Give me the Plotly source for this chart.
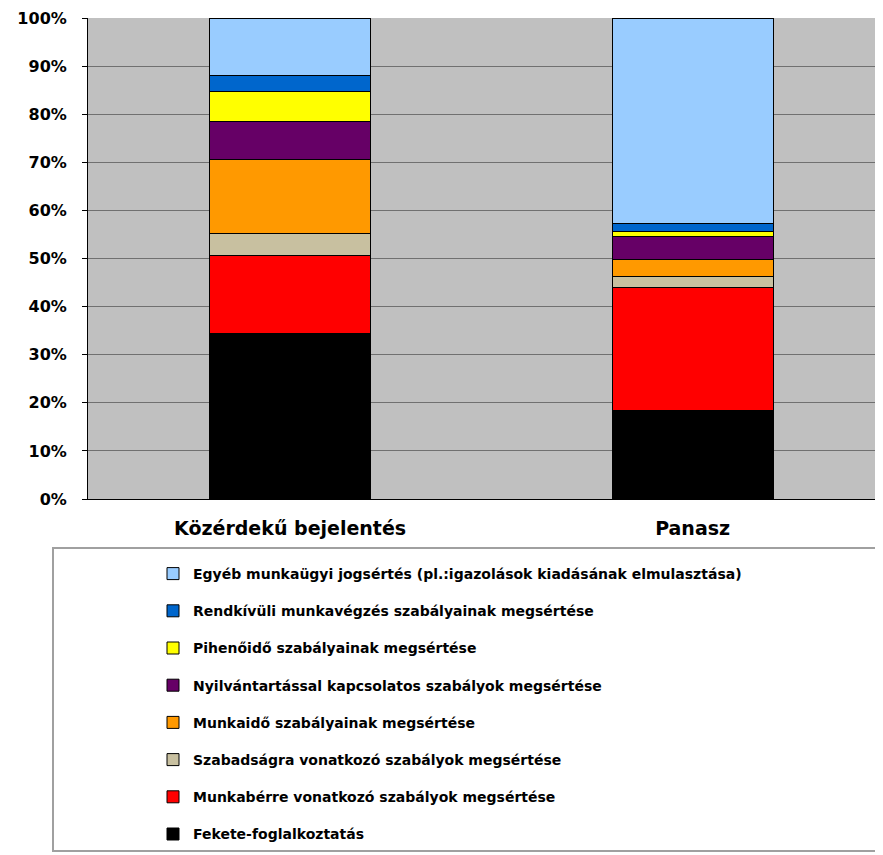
import plotly.graph_objects as go

categories = ["Közérdekű bejelentés", "Panasz"]

series_names = [
    "Fekete-foglalkoztatás",
    "Munkabérre vonatkozó szabályok megsértése",
    "Szabadságra vonatkozó szabályok megsértése",
    "Munkaidő szabályainak megsértése",
    "Nyilvántartással kapcsolatos szabályok megsértése",
    "Pihenőidő szabályainak megsértése",
    "Rendkívüli munkavégzés szabályainak megsértése",
    "Egyéb munkaügyi jogsértés (pl.:igazolások kiadásának elmulasztása)",
]

fekete = [34.5, 18.5]
munkaber = [16.2, 25.5]
szabadsag = [4.6, 2.3]
munkaido = [15.2, 3.5]
nyilvantartas = [7.9, 4.7]
piheno = [6.3, 1.2]
rendkivuli = [3.4, 1.6]
egyeb = [11.9, 42.7]

values = [fekete, munkaber, szabadsag, munkaido, nyilvantartas, piheno, rendkivuli, egyeb]
colors = ["#000000", "#ff0000", "#c8c0a0", "#ff9900", "#660066", "#ffff00", "#0066cc", "#99ccff"]

tick_vals = [0, 10, 20, 30, 40, 50, 60, 70, 80, 90, 100]
tick_text = ["0%", "10%", "20%", "30%", "40%", "50%", "60%", "70%", "80%", "90%", "100%"]

FONT = "DejaVu Sans"

fig = go.Figure()
for i, (name, vals, col) in enumerate(zip(series_names, values, colors)):
    fig.add_trace(go.Bar(
        x=[0, 1], y=vals, name=name,
        marker=dict(color=col, line=dict(color="#000000", width=1)),
        width=0.4, legendgroup=f"g{i}", legendrank=100 - i,
    ))

# page has an 8px body offset
OFF = 8
W, H = 883 - OFF, 855 - OFF
L, T = 88 - OFF, 18 - OFF
BOT = 499 - OFF
R = 0
B = H - BOT
pw = W - L - R
ph = BOT - T

def px_x(x):
    return (x - OFF - L) / pw

def px_y(y):
    return (BOT - (y - OFF)) / ph

fig.add_shape(type="rect", xref="paper", yref="paper",
              x0=px_x(53), x1=px_x(882), y0=px_y(851), y1=px_y(548),
              line=dict(color="#a0a0a0", width=2), fillcolor="white", layer="below")

fig.update_layout(
    width=W, height=H,
    margin=dict(l=L, r=R, t=T, b=B, autoexpand=False),
    paper_bgcolor="white",
    plot_bgcolor="#c0c0c0",
    barmode="stack",
    font=dict(family=FONT, color="#000000"),
    xaxis=dict(
        range=[-0.502, 1.473],
        tickvals=[0, 1], ticktext=categories,
        showgrid=False, showline=True, linecolor="#000000", linewidth=1,
        tickfont=dict(size=19, family=FONT, color="#000000", weight="bold"),
        ticks="", ticklabelstandoff=12,
    ),
    yaxis=dict(
        range=[0, 100], tickvals=tick_vals, ticktext=tick_text,
        showgrid=True, gridcolor="#707070", gridwidth=1,
        showline=True, linecolor="#000000", linewidth=1,
        ticks="outside", ticklen=5, tickcolor="#000000",
        tickfont=dict(size=16, family=FONT, color="#000000", weight="bold"),
        ticklabelstandoff=12,
        zeroline=False,
    ),
    legend=dict(
        traceorder="grouped",
        x=px_x(153), y=px_y(558), xanchor="left", yanchor="top",
        bgcolor="rgba(0,0,0,0)", borderwidth=0,
        font=dict(size=14, family=FONT, color="#000000", weight="bold"),
        tracegroupgap=16, itemwidth=30,
    ),
)

fig.write_html("out.html")
